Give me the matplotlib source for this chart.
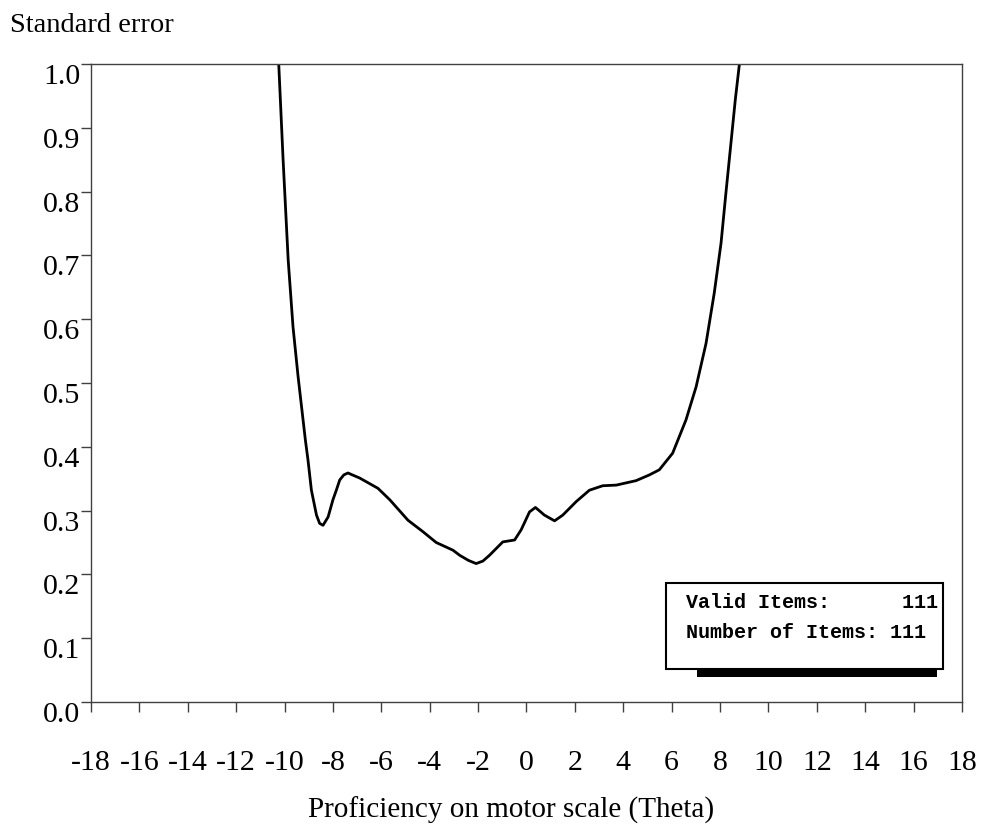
import matplotlib.pyplot as plt
from matplotlib.patches import Rectangle

# standard error curve
theta = [-10.24, -10.06, -9.85, -9.65, -9.44, -9.14, -9.03, -8.89, -8.68, -8.55,
         -8.41, -8.20, -8.00, -7.86, -7.72, -7.55, -7.38, -6.89, -6.14, -5.65,
         -4.90, -4.28, -3.73, -3.04, -2.76, -2.40, -2.08, -1.80, -1.53, -0.98,
         -0.49, -0.22, 0.125, 0.37, 0.74, 1.16, 1.50, 2.05, 2.60, 3.15,
         3.71, 4.53, 5.08, 5.49, 6.04, 6.59, 7.01, 7.42, 7.76, 8.04,
         8.24, 8.45, 8.63, 8.80]
se = [1.0, 0.850, 0.693, 0.588, 0.510, 0.411, 0.379, 0.332, 0.293, 0.280,
      0.277, 0.290, 0.317, 0.332, 0.348, 0.356, 0.359, 0.351, 0.335, 0.317,
      0.285, 0.267, 0.250, 0.238, 0.230, 0.222, 0.217, 0.221, 0.230, 0.251,
      0.254, 0.270, 0.298, 0.305, 0.293, 0.284, 0.293, 0.314, 0.332, 0.339,
      0.340, 0.347, 0.356, 0.364, 0.390, 0.442, 0.494, 0.562, 0.641, 0.719,
      0.797, 0.876, 0.944, 1.0]

xticks = list(range(-18, 19, 2))
yticks = [0.0, 0.1, 0.2, 0.3, 0.4, 0.5, 0.6, 0.7, 0.8, 0.9, 1.0]
info = ['Valid Items:      111', 'Number of Items: 111']

plt.rcParams['font.family'] = 'Liberation Serif'

fig = plt.figure(figsize=(9.89, 8.27), dpi=100)
ax = fig.add_axes([0.092, 0.1511, 0.8807, 0.7715])

ax.plot(theta, se, color='black', linewidth=2.0, solid_joinstyle='round')
ax.set_xlim(-18, 18)
ax.set_ylim(0, 1)
ax.set_xticks(xticks)
ax.set_xticklabels([str(t) for t in xticks])
ax.set_yticks(yticks)
ax.set_yticklabels(['%.1f' % v for v in yticks])

for s in ax.spines.values():
    s.set_color('#404040')
    s.set_linewidth(1.0)

ax.tick_params(axis='x', direction='out', length=7.5, width=1.0, color='#404040',
               pad=27, labelsize=21.5)
ax.tick_params(axis='y', direction='out', length=7, width=1.0, color='#404040',
               pad=0.5, labelsize=21.5)
plt.setp(ax.get_yticklabels(), va='top')

fig.text(10 / 989, 1 - 32 / 827, 'Standard error', fontsize=20.5, ha='left', va='baseline')
fig.text(511 / 989, 1 - 818 / 827, 'Proficiency on motor scale (Theta)', fontsize=21,
         ha='center', va='baseline')

# info box with shadow
fig.patches.append(Rectangle((697 / 989, 150 / 827), 240 / 989, 7 / 827,
                             transform=fig.transFigure, facecolor='black',
                             edgecolor='none'))
fig.patches.append(Rectangle((666 / 989, 158 / 827), 277 / 989, 86 / 827,
                             transform=fig.transFigure, facecolor='white',
                             edgecolor='black', linewidth=1.5))
for i, line in enumerate(info):
    fig.text(686 / 989, 1 - (603 + 29 * i) / 827, line, family='Liberation Mono',
             fontweight='bold', fontsize=14.4, ha='left', va='center')

fig.savefig('out.png', dpi=100)
